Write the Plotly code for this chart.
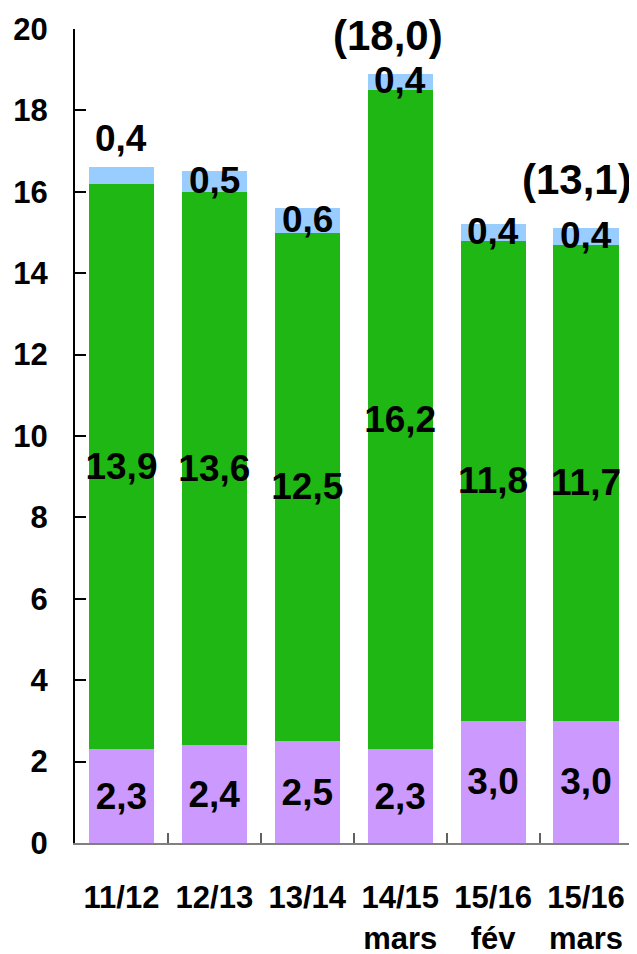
import plotly.graph_objects as go

categories = ["11/12", "12/13", "13/14", "14/15<br>mars", "15/16<br>fév", "15/16<br>mars"]
purple_vals = [2.3, 2.4, 2.5, 2.3, 3.0, 3.0]
green_vals = [13.9, 13.6, 12.5, 16.2, 11.8, 11.7]
blue_vals = [0.4, 0.5, 0.6, 0.4, 0.4, 0.4]
totals = [None, None, None, 18.0, None, 13.1]
yticks = [0, 2, 4, 6, 8, 10, 12, 14, 16, 18, 20]

FONT = "Liberation Sans, Arial, sans-serif"
LBL = dict(family=FONT, size=37, color="black", weight=700)

fig = go.Figure()
fig.add_bar(x=categories, y=purple_vals, marker_color="#CC99FF", marker_line_width=0,
            texttemplate="%{y:.1f}", textposition="inside", insidetextanchor="middle",
            textangle=0, textfont=LBL, constraintext="none", name="a")
fig.add_bar(x=categories, y=green_vals, marker_color="#1FB714", marker_line_width=0,
            texttemplate="%{y:.1f}", textposition="inside", insidetextanchor="middle",
            textangle=0, textfont=LBL, constraintext="none", name="b")
fig.add_bar(x=categories, y=blue_vals, marker_color="#99CCFF", marker_line_width=0,
            textposition="none", name="c")

def fmt(v):
    return f"{v:.1f}".replace(".", ",")

annotations = []
for i, c in enumerate(categories):
    base = purple_vals[i] + green_vals[i]
    top = base + blue_vals[i]
    if i == 0:
        annotations.append(dict(x=c, y=top, text=fmt(blue_vals[i]), showarrow=False,
                                yanchor="middle", yshift=29, font=LBL))
    else:
        annotations.append(dict(x=c, y=(base + top) / 2, text=fmt(blue_vals[i]), showarrow=False,
                                yanchor="middle", yshift=1, font=LBL))
    if totals[i] is not None:
        annotations.append(dict(x=c, y=top, text="(" + fmt(totals[i]) + ")", showarrow=False,
                                yanchor="middle", yshift=38 if i == 3 else 49,
                                xshift=-12 if i == 3 else -9,
                                font=dict(family=FONT, size=42, color="black", weight=700)))

fig.update_layout(
    width=637, height=954,
    margin=dict(l=67, r=11, t=21, b=119),
    barmode="stack", bargap=0.30,
    plot_bgcolor="white", paper_bgcolor="white",
    showlegend=False,
    separators=", ",
    annotations=annotations,
    font=dict(family=FONT, color="black"),
)
fig.update_xaxes(
    automargin=False,
    showline=True, linecolor="#808080", linewidth=2,
    ticks="inside", tickson="boundaries", ticklen=10, tickwidth=2, tickcolor="#606060",
    tickfont=dict(family=FONT, size=31, color="black", weight=700),
    ticklabelstandoff=26,
    showgrid=False,
)
fig.update_yaxes(
    automargin=False,
    range=[0, 20], tickvals=yticks,
    showline=True, linecolor="black", linewidth=2,
    ticks="inside", ticklen=11, tickwidth=2, tickcolor="black",
    tickfont=dict(family=FONT, size=31, color="black", weight=700),
    ticklabelstandoff=19,
    showgrid=False, zeroline=False,
)
fig.write_html("out.html")
